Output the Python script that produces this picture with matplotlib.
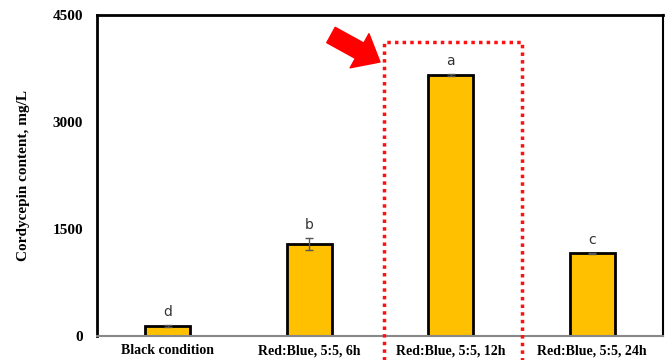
import numpy as np
import matplotlib.pyplot as plt
from matplotlib.patches import Rectangle

# data
conditions = ['Black condition', 'Red:Blue, 5:5, 6h', 'Red:Blue, 5:5, 12h', 'Red:Blue, 5:5, 24h']
cordycepin = [140, 1290, 3660, 1160]
errors = [15, 85, 20, 10]
letters = ['d', 'b', 'a', 'c']
yticks = [0, 1500, 3000, 4500]

fig = plt.figure(figsize=(6.7, 3.6), dpi=100)
ax = fig.add_axes([0.1448, 0.0667, 0.8448, 0.8916])

x = np.arange(len(conditions))
ax.bar(x, cordycepin, width=0.32, color='#FFC000', edgecolor='black', linewidth=2, zorder=2)
ax.errorbar(x, cordycepin, yerr=errors, fmt='none', ecolor='#555555', elinewidth=1,
            capsize=3, capthick=1, zorder=3)

for xi, v, e, lab in zip(x, cordycepin, errors, letters):
    ax.annotate(lab, (xi, v + e), xytext=(0, 4), textcoords='offset points',
                ha='center', va='bottom', fontsize=10, color='#333333', family='DejaVu Sans')

ax.set_xlim(-0.5, 3.5)
ax.set_ylim(0, 4500)
ax.set_yticks(yticks)
ax.set_xticks(x)
ax.set_xticklabels(conditions)
ax.tick_params(length=0)
ax.tick_params(axis='x', pad=6)
ax.tick_params(axis='y', pad=10)
for t in ax.get_xticklabels():
    t.set_family('Liberation Serif')
    t.set_fontweight('bold')
    t.set_fontsize(10)
for t in ax.get_yticklabels():
    t.set_family('Liberation Serif')
    t.set_fontweight('bold')
    t.set_fontsize(11)
ax.set_ylabel('Cordycepin content, mg/L', family='Liberation Serif', fontweight='bold',
              fontsize=11, labelpad=16)

for s in ['left', 'top', 'right']:
    ax.spines[s].set_linewidth(2)
    ax.spines[s].set_color('black')
ax.spines['right'].set_linewidth(1.5)
ax.spines['bottom'].set_color('#888888')
ax.spines['bottom'].set_linewidth(1.5)

# highlight box around the 12h bar
ax.add_patch(Rectangle((1.53, -600), 0.97, 4720, fill=False, edgecolor='#FF1010',
                       linestyle=(0, (1, 1.2)), linewidth=2.5, clip_on=False, zorder=4))

# red arrow pointing at the box
ax.annotate('', xy=(380, 298), xytext=(331, 325), xycoords='figure pixels',
            textcoords='figure pixels',
            arrowprops=dict(arrowstyle='simple,head_length=1.2,head_width=2.0,tail_width=0.9',
                            color='#FF0000', mutation_scale=14, shrinkA=0, shrinkB=0))

fig.savefig('out.png', dpi=100)
